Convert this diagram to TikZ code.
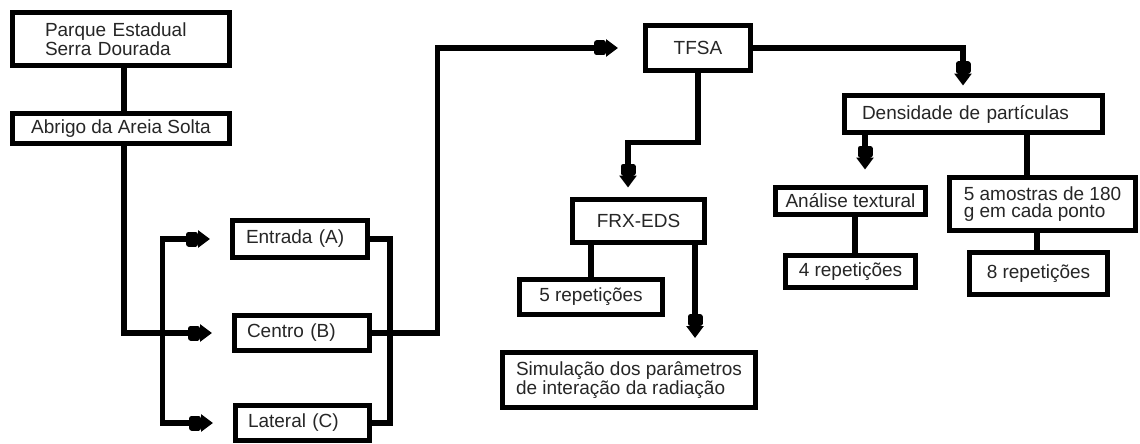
\documentclass[tikz,border=0pt]{standalone}
\usepackage{fontspec}
\setmainfont{Liberation Sans}
\usetikzlibrary{arrows.meta}
\begin{document}
\begin{tikzpicture}[x=1pt,y=-1pt,
  box/.style={draw=black, line width=5pt, fill=white, inner ysep=0pt, inner xsep=4pt,
    font=\fontsize{19}{17}\selectfont, text=black!85, align=center},
  ln/.style={line width=5.5pt},
  arr/.style={ln, -{Rectangle[length=12pt,width=15pt,round]Triangle[length=12pt,width=17pt]}},
]
\useasboundingbox (0,0) rectangle (1140,444);

\node[box, minimum width=217pt, minimum height=53pt, text width=152pt, align=left, inner xsep=32.5pt] (parque) at (121,39) {Parque Estadual\\Serra Dourada};
\node[box, minimum width=217pt, minimum height=30pt] (abrigo) at (121,128.5) {Abrigo da Areia Solta};
\node[box, minimum height=37pt, text width=108pt, align=left, inner xsep=13.5pt] (entrada) at (300,239) {Entrada (A)};
\node[box, minimum height=35pt, text width=110pt, align=left, inner xsep=12.5pt] (centro) at (302,333) {Centro (B)};
\node[box, minimum height=35pt, text width=109pt, align=left, inner xsep=12.5pt] (lateral) at (302.5,423) {Lateral (C)};
\node[box, minimum width=105pt, minimum height=45pt] (tfsa) at (698,48) {TFSA};
\node[box, minimum width=132pt, minimum height=43pt] (frx) at (638.5,221) {FRX-EDS};
\node[box, minimum width=143pt, minimum height=35pt] (rep5) at (591,297) {5 repetições};
\node[box, minimum width=253pt, minimum height=55pt, align=left] (sim) at (629,380) {Simulação dos parâmetros\\de interação da radiação};
\node[box, minimum height=37pt, text width=223pt, align=left, inner xsep=17.5pt] (dens) at (973.5,114) {Densidade de partículas};
\node[box, minimum width=150pt, minimum height=27pt] (anal) at (850.5,201) {Análise textural};
\node[box, minimum width=130pt, minimum height=32pt] (rep4) at (850.5,271.5) {4 repetições};
\node[box, minimum width=186pt, minimum height=53pt, align=left] (am) at (1042.5,204) {5 amostras de 180\\g em cada ponto};
\node[box, minimum width=138pt, minimum height=42pt] (rep8) at (1038.5,273.5) {8 repetições};

\path (centro.west) ++(-69.5,0) coordinate (bar);

\draw[ln] ([xshift=3pt]parque.south) -- ([xshift=3pt]abrigo.north);
\draw[arr, shorten >=20pt] ([xshift=3pt]abrigo.south) |- (centro.west);
\draw[arr, shorten >=20pt] (bar) |- (entrada.west);
\draw[arr, shorten >=20pt] (bar) |- (lateral.west);
\draw[ln] (entrada.east) -- ++(20,0) |- (lateral.east);
\draw[arr, shorten >=25pt] (centro.east) -- ++(65.5,0) |- (tfsa.west);
\draw[arr, shorten >=9.5pt] (tfsa.south) -- ++(0,69.5) -| ([xshift=-10.5pt]frx.north);
\draw[ln] (frx.south -| rep5.north) -- (rep5.north);
\draw[arr, shorten >=12pt] ([xshift=56.5pt]frx.south) -- ([xshift=66pt]sim.north);
\draw[arr, shorten >=7.5pt] (tfsa.east) -| ([xshift=-10.5pt]dens.north);
\draw[arr, shorten >=15.5pt] ([xshift=-108.5pt]dens.south) -- ([xshift=14.5pt]anal.north);
\draw[ln] ([xshift=53.5pt]dens.south) -- ([xshift=-15.5pt]am.north);
\draw[ln] ([xshift=4.5pt]anal.south) -- ([xshift=4.5pt]rep4.north);
\draw[ln] ([xshift=-5.5pt]am.south) -- ([xshift=-1.5pt]rep8.north);
\end{tikzpicture}
\end{document}
